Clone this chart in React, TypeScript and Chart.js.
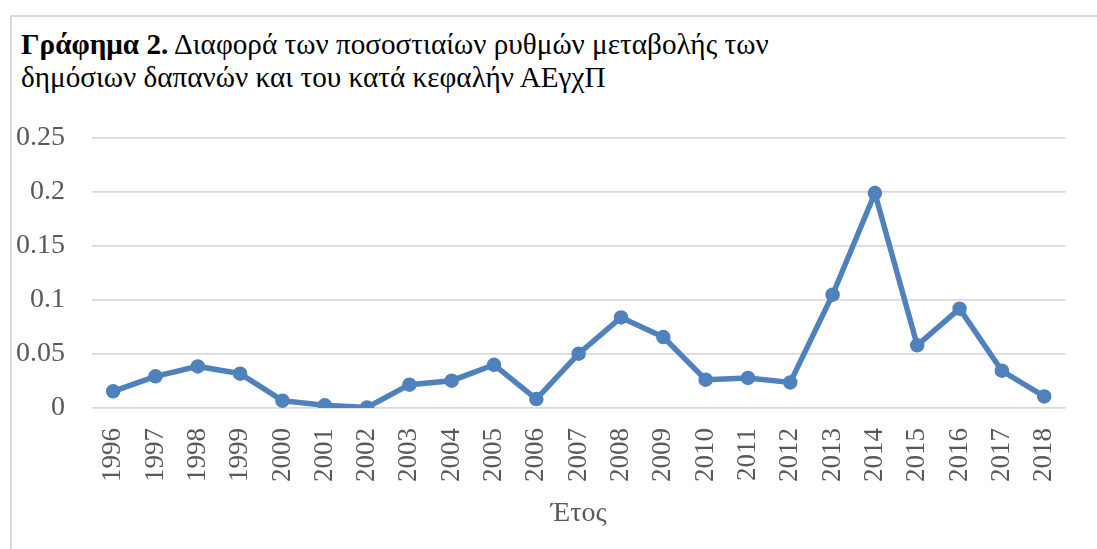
import React, { useEffect, useRef } from "react";
import { Chart, registerables } from "chart.js";

Chart.register(...registerables);

const years: string[] = [
  "1996", "1997", "1998", "1999", "2000", "2001", "2002", "2003", "2004", "2005", "2006", "2007",
  "2008", "2009", "2010", "2011", "2012", "2013", "2014", "2015", "2016", "2017", "2018",
];

const diffValues: number[] = [
  0.0154, 0.0293, 0.0385, 0.0318, 0.0068, 0.0025, 0.0005, 0.0216, 0.0253, 0.040, 0.0083, 0.0503,
  0.0839, 0.0657, 0.0262, 0.0278, 0.0237, 0.1049, 0.199, 0.058, 0.092, 0.0345, 0.0107,
];

const yTickValues: number[] = [0, 0.05, 0.1, 0.15, 0.2, 0.25];
const yTickLabels: string[] = ["0", "0.05", "0.1", "0.15", "0.2", "0.25"];

const titleBold = "Γράφημα 2.";
const titleLine1 = " Διαφορά των ποσοστιαίων ρυθμών μεταβολής των";
const titleLine2 = "δημόσιων δαπανών και του κατά κεφαλήν ΑΕγχΠ";
const xAxisTitle = "Έτος";

const FONT = "'Liberation Serif', 'Times New Roman', serif";

export default function App() {
  const canvasRef = useRef<HTMLCanvasElement | null>(null);

  useEffect(() => {
    const canvas = canvasRef.current;
    if (!canvas) return;
    const chart = new Chart(canvas, {
      type: "line",
      data: {
        labels: years,
        datasets: [
          {
            data: diffValues,
            borderColor: "rgb(79,129,189)",
            backgroundColor: "rgb(79,129,189)",
            pointBackgroundColor: "rgb(79,129,189)",
            pointBorderColor: "rgb(79,129,189)",
            borderWidth: 5.5,
            pointRadius: 6.5,
            pointBorderWidth: 1.5,
            tension: 0,
            fill: false,
          },
        ],
      },
      options: {
        responsive: false,
        animation: false,
        devicePixelRatio: 1,
        layout: { padding: { top: 138, right: 19, bottom: 0, left: 0 } },
        plugins: {
          legend: { display: false },
          title: { display: false },
          tooltip: { enabled: false },
        },
        scales: {
          x: {
            offset: true,
            grid: { display: false, drawTicks: false },
            border: { display: false },
            ticks: {
              autoSkip: false,
              minRotation: 90,
              maxRotation: 90,
              padding: 20,
              color: "#595959",
              font: { family: FONT, size: 27 },
            },
            title: {
              display: true,
              text: xAxisTitle,
              color: "#595959",
              font: { family: FONT, size: 28 },
              padding: { top: 0, bottom: 19 },
            },
            afterFit: (scale: any) => {
              scale.height = 141;
            },
          },
          y: {
            min: 0,
            max: 0.25,
            grid: { color: "#d9d9d9", lineWidth: 1.7, drawTicks: false },
            border: { display: false },
            afterBuildTicks: (scale: any) => {
              scale.ticks = yTickValues.map((v) => ({ value: v }));
            },
            ticks: {
              padding: 27,
              color: "#595959",
              font: { family: FONT, size: 28 },
              callback: (value: any) => {
                const i = yTickValues.findIndex((t) => Math.abs(t - Number(value)) < 1e-9);
                return i >= 0 ? yTickLabels[i] : "";
              },
            },
            afterFit: (scale: any) => {
              scale.width = 92;
            },
          },
        },
      },
    });
    return () => chart.destroy();
  }, []);

  return (
    <div
      style={{
        position: "absolute",
        left: 0,
        top: 0,
        width: 1097,
        height: 549,
        overflow: "hidden",
        background: "#ffffff",
      }}
    >
      <div
        style={{
          position: "absolute",
          left: 10,
          top: 15,
          width: 1300,
          height: 700,
          borderTop: "2px solid #d9d9d9",
          borderLeft: "2px solid #d9d9d9",
        }}
      />
      <div
        style={{
          position: "absolute",
          left: 21,
          top: 28,
          fontFamily: FONT,
          fontSize: 29.2,
          lineHeight: "33px",
          color: "#000000",
          whiteSpace: "nowrap",
        }}
      >
        <div>
          <b>{titleBold}</b>
          {titleLine1}
        </div>
        <div>{titleLine2}</div>
      </div>
      <canvas
        ref={canvasRef}
        width={1097}
        height={549}
        style={{ position: "absolute", left: 0, top: 0, width: 1097, height: 549 }}
      />
    </div>
  );
}
